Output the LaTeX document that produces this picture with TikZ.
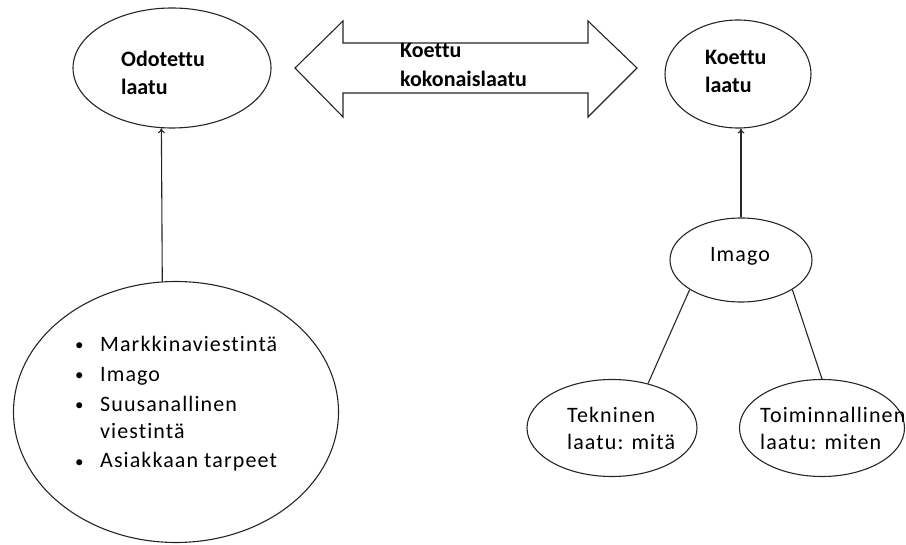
\documentclass[tikz,border=0pt]{standalone}
\usepackage{fontspec}
\setmainfont{Carlito}[Ligatures=NoCommon]
\newfontfamily\regfont{Carlito}[LetterSpace=5,Ligatures=NoCommon]
\usetikzlibrary{shapes.geometric,arrows.meta}
\newcommand{\blt}{\makebox[25pt][l]{\raisebox{1pt}{\fontsize{17}{17}\selectfont •}}}
\begin{document}
\begin{tikzpicture}[x=1pt,y=-1pt,
  ell/.style={draw=black!85, line width=1.1pt, ellipse, inner sep=0pt},
  btxt/.style={font=\fontsize{22}{28}\selectfont\bfseries, align=left, anchor=base west, inner sep=0pt},
  rtxt/.style={font=\regfont\fontsize{22}{27}\selectfont, align=left, anchor=base west, inner sep=0pt},
  conn/.style={draw=black!85, line width=1.1pt},
  >={To[length=5pt,width=7pt]}
]
\useasboundingbox (0,0) rectangle (906,545);
% ellipses
\node[ell, minimum width=198pt, minimum height=120pt] (odo) at (172,68) {};
\node[ell, minimum width=146pt, minimum height=108pt] (koe) at (738,74) {};
\node[ell, minimum width=142pt, minimum height=84pt] (img) at (741,260) {};
\node[ell, minimum width=170pt, minimum height=97pt] (tek) at (612,428) {};
\node[ell, minimum width=165pt, minimum height=97pt] (toi) at (822,428) {};
\node[ell, minimum width=325pt, minimum height=261pt] (big) at (176,412) {};
% double arrow
\draw[conn, fill=white] (295,68) -- (343,21) -- (343,43) -- (588,43) -- (588,21) -- (637,68)
  -- (588,117) -- (588,93) -- (343,93) -- (343,117) -- cycle;
% texts (base anchor = baseline of the last line)
\node[btxt] (kk) at (400,87) {Koettu\\[1pt]kokonaislaatu};
\node[btxt] (odoT) at (121,95) {Odotettu\\laatu};
\node[btxt] (koeT) at (705,93) {Koettu\\laatu};
\node[rtxt, anchor=base] (imgT) at (740,262) {Imago};
\node[rtxt] (tekT) at (567,450) {Tekninen\\[1pt]laatu: mitä};
\node[rtxt] (toiT) at (760,450) {Toiminnallinen\\[1pt]laatu: miten};
\node[rtxt] (list) at (75,468) {\blt Markkinaviestintä\\[3pt]
  \blt Imago\\[3pt]
  \blt Suusanallinen\\
  \hspace*{25pt}viestintä\\[3pt]
  \blt Asiakkaan tarpeet};
% connectors
\draw[conn,->] (big.96) -- (odo.260);
\draw[conn,->] (img.north) -- (img.north |- koe.south);
\draw[conn] (img.210) -- (tek.51);
\draw[conn] (img.330) -- (toi.north);
\end{tikzpicture}
\end{document}
